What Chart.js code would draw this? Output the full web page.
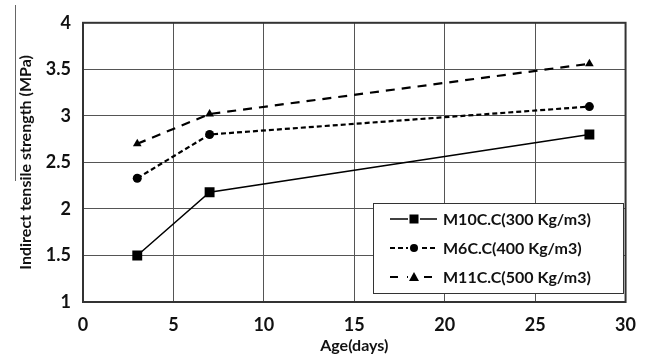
<!DOCTYPE html>
<html><head><meta charset="utf-8">
<script src="https://cdn.jsdelivr.net/npm/chart.js@4.4.1/dist/chart.umd.min.js"></script>
<style>html,body{margin:0;padding:0;background:#fff}#wrap{width:648px;height:361px}</style>
</head><body><div id="wrap"><canvas id="c" width="648" height="361"></canvas></div>
<script>
const ages = [3, 7, 28];
const seriesNames = ['M10C.C(300 Kg/m3)', 'M6C.C(400 Kg/m3)', 'M11C.C(500 Kg/m3)'];
const m10 = [1.50, 2.18, 2.80];
const m6 = [2.33, 2.80, 3.10];
const m11 = [2.70, 3.02, 3.56];
const xTicks = [0, 5, 10, 15, 20, 25, 30];
const yTicks = [1, 1.5, 2, 2.5, 3, 3.5, 4];

const FONT = 'Lato, "Open Sans", sans-serif';
const styles = [
  {dash: [], pt: 'rect', r: 7},
  {dash: [5, 3], pt: 'circle', r: 4.5},
  {dash: [9, 7], pt: 'triangle', r: 5}
];
const vals = [m10, m6, m11];
const datasets = vals.map((v, i) => ({
  label: seriesNames[i],
  data: ages.map((a, j) => ({x: a, y: v[j]})),
  borderColor: '#000', backgroundColor: '#000',
  borderWidth: i === 0 ? 1.5 : 2.2,
  borderDash: styles[i].dash,
  pointStyle: styles[i].pt, pointRadius: styles[i].r,
  pointBorderWidth: 0, tension: 0
}));

const legendPlugin = {
  id: 'boxLegend',
  afterDraw(chart) {
    const ctx = chart.ctx, a = chart.chartArea;
    const x0 = 373, y0 = 203, w = 250, h = 90;
    ctx.save();
    ctx.fillStyle = '#fff'; ctx.fillRect(x0, y0, w, h);
    ctx.strokeStyle = '#333'; ctx.lineWidth = 1; ctx.strokeRect(x0 + 0.5, y0 + 0.5, w, h);
    chart.data.datasets.forEach((ds, i) => {
      const y = y0 + 16 + i * 29;
      ctx.strokeStyle = '#000'; ctx.lineWidth = ds.borderWidth;
      ctx.setLineDash(i === 2 ? [8, 9] : (i === 1 ? [5, 3] : []));
      ctx.beginPath(); ctx.moveTo(x0 + 17, y); ctx.lineTo(x0 + 64, y); ctx.stroke();
      ctx.setLineDash([]);
      ctx.fillStyle = '#fff'; ctx.fillRect(x0 + 35, y - 6, 12, 12);
      ctx.fillStyle = '#000';
      const cx = x0 + 41;
      if (i === 0) ctx.fillRect(cx - 4.5, y - 4.5, 9, 9);
      else if (i === 1) { ctx.beginPath(); ctx.arc(cx, y, 4, 0, Math.PI * 2); ctx.fill(); }
      else { ctx.beginPath(); ctx.moveTo(cx, y - 5); ctx.lineTo(cx + 5, y + 4); ctx.lineTo(cx - 5, y + 4); ctx.closePath(); ctx.fill(); }
      ctx.fillStyle = '#111'; ctx.font = 'bold 16px ' + FONT;
      ctx.textBaseline = 'middle'; ctx.textAlign = 'left';
      ctx.fillText(ds.label, x0 + 70, y + 1);
    });
    ctx.strokeStyle = '#333'; ctx.lineWidth = 2;
    ctx.strokeRect(a.left, a.top, a.right - a.left, a.bottom - a.top);
    ctx.strokeStyle = '#666'; ctx.lineWidth = 1;
    ctx.beginPath(); ctx.moveTo(15.5, 5); ctx.lineTo(15.5, 181); ctx.stroke();
    ctx.restore();
  }
};

new Chart(document.getElementById('c'), {
  type: 'line',
  data: {datasets},
  options: {
    responsive: false, animation: false,
    layout: {padding: {left: 0, right: 21, top: 13, bottom: 0}},
    plugins: {legend: {display: false}, tooltip: {enabled: false}},
    scales: {
      x: {
        type: 'linear', min: 0, max: 30,
        afterBuildTicks: s => { s.ticks = xTicks.map(v => ({value: v})); },
        afterFit: s => { s.height = 59; },
        grid: {color: '#555', lineWidth: 1, drawTicks: false},
        border: {display: false},
        ticks: {color: '#111', font: {family: FONT, size: 18, weight: 'bold'}, padding: 12, maxRotation: 0, callback: v => String(v)},
        title: {display: true, text: 'Age(days)', color: '#111', font: {family: FONT, size: 16, weight: 'bold'}, padding: {top: 0, bottom: 6}}
      },
      y: {
        type: 'linear', min: 1, max: 4,
        afterBuildTicks: s => { s.ticks = yTicks.map(v => ({value: v})); },
        afterFit: s => { s.width = 83; },
        grid: {color: '#555', lineWidth: 1, drawTicks: false},
        border: {display: false},
        ticks: {color: '#111', font: {family: FONT, size: 18, weight: 'bold'}, padding: 12, callback: v => String(v)},
        title: {display: true, text: 'Indirect tensile strength (MPa)', color: '#111', font: {family: FONT, size: 16, weight: 'bold'}, padding: {top: 16, bottom: 0}}
      }
    }
  },
  plugins: [legendPlugin]
});
</script></body></html>
